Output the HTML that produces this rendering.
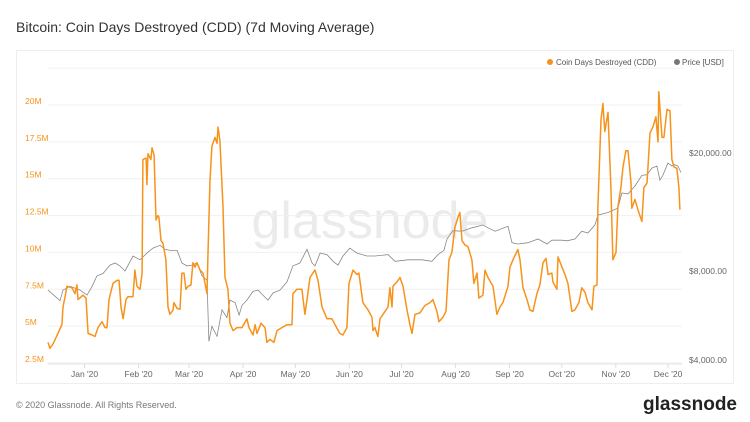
<!DOCTYPE html>
<html><head><meta charset="utf-8"><style>
body{margin:0;width:750px;height:422px;background:#fff;overflow:hidden;font-family:"Liberation Sans",sans-serif;}
svg{display:block}
</style></head><body>
<svg id="c" width="750" height="422">
<text x="16" y="32" font-size="14" fill="#333">Bitcoin: Coin Days Destroyed (CDD) (7d Moving Average)</text>
<rect x="16.5" y="50.5" width="717" height="333" fill="#fff" stroke="#eee"/>
<text x="370" y="238" font-size="52" fill="#ebebeb" text-anchor="middle">glassnode</text>
<g id="grid"></g><g id="axes"></g><g id="series"></g>
<g>
<g><circle cx="550" cy="62" r="3" fill="#f7931a"/><text x="556" y="65" font-size="8" fill="#555">Coin Days Destroyed (CDD)</text></g>
<g><circle cx="677" cy="62" r="3" fill="#777"/><text x="682" y="65" font-size="8" fill="#555">Price [USD]</text></g>
</g>
<text x="16" y="408" font-size="9" fill="#777">© 2020 Glassnode. All Rights Reserved.</text>
<text x="737" y="410" font-size="19" font-weight="bold" fill="#222" text-anchor="end">glassnode</text>
</svg>
<script>
const cddDays=[0,1.1,2.9,5.7,8,8.6,9.8,10.9,13.8,15.5,16.6,17.2,20.1,21.8,23,25.3,27,28.7,31,32.7,33.9,35,37.3,39.6,40.8,41.9,43.1,44.8,45.9,48.8,49.9,51.1,52.8,54,54.5,56.3,56.8,57.4,59.1,59.7,60.9,62,63.1,63.7,64.9,66,67.7,68.9,70,71.8,72.3,74.1,75.8,76.9,78.1,79.2,80.4,82.1,83.2,84.4,85.5,87.3,89,91.3,91.8,93,94.1,95.9,97,97.6,98.7,100.5,101.6,103.3,104.5,106.2,108.5,111.4,114.2,115.4,117.7,118.9,120,122.3,124.6,125.7,127.4,129.7,131.5,134.3,137.2,140.1,140.6,142.9,145.8,147.5,148.7,150.4,152.1,153.3,155,157.3,160.2,163,164.8,167.6,169.3,171.6,172.8,175.1,177.4,178.5,180.8,183.7,186,186.6,187.7,189.4,190.6,193.5,195.2,196.3,197.5,198.1,200.3,202.1,203.8,206.1,207.8,209,210.7,213.5,216.4,219.3,221,223.3,224.5,226.7,228.5,230.2,231.9,233.6,235.4,236.5,237.7,239.4,241.1,243.4,244.5,246.3,247.4,249.7,250.9,252.6,255.5,257.7,259.5,261.2,264.1,265.2,267,269.8,271,272.7,275,276.7,278.4,280.7,282.4,284.2,285.9,287.1,289.3,289.9,292.2,292.8,295.1,296.8,298.5,300.8,302.5,304.8,306.5,308.3,310,312.3,313.4,315.2,315.7,317.5,318.6,319.7,321.5,323.2,324.3,326.1,327.2,328.9,330.1,331.8,333,334.7,335.2,337,338.7,341,342.1,343.9,345.6,347.3,349,350.2,350.7,352.5,353.6,355.4,357.1,358.2,359.4,361.1,362.2,362.8];
const cddValues=[3.9,3.5,3.8,4.5,5.1,6.3,7.0,7.7,7.6,7.2,7.8,6.8,7.1,6.9,4.5,4.4,4.3,4.9,5.3,4.9,4.9,6.8,7.9,8.1,8.1,6.3,5.5,6.8,7.0,7.0,8.8,7.7,7.5,8.6,16.3,16.4,14.6,16.7,16.3,17.1,16.6,12.2,12.5,12.4,10.8,10.6,9.5,6.3,5.8,6.1,6.6,6.2,6.15,8.6,8.6,7.5,7.7,7.8,9.3,9.0,9.3,8.8,8.6,7.2,9.7,14.9,17.2,17.8,17.4,18.5,17.6,13.1,8.3,7.5,5.2,4.7,4.9,4.9,5.5,4.9,4.4,5.1,4.5,5.2,4.9,3.9,4.1,3.9,4.7,4.9,5.1,5.1,7.2,7.5,7.5,5.8,6.8,8.3,8.6,8.8,8.1,6.3,5.5,5.5,5.1,4.5,4.4,4.9,7.9,8.8,8.5,8.6,6.6,6.1,5.6,4.7,4.9,4.3,5.5,6.0,6.3,7.6,6.3,7.7,8.0,8.3,7.7,6.1,5.1,4.5,5.8,5.9,6.4,6.6,6.8,6.0,5.3,5.6,6.0,9.5,10.0,11.7,12.4,12.7,10.8,10.5,10.4,9.5,7.9,8.6,6.9,7.1,8.8,8.3,7.7,5.8,6.3,6.6,7.7,9.0,9.5,10.2,9.5,7.6,6.8,6.1,6.0,7.2,7.8,9.3,9.6,8.5,8.6,8.0,7.5,9.7,9.0,8.5,7.9,6.0,6.1,6.6,7.6,7.3,6.6,6.1,7.7,7.8,13.1,19.0,20.1,18.2,19.5,14.4,9.5,10.0,13.1,14.4,15.8,16.9,16.9,14.7,13.0,13.6,12.9,12.1,14.4,14.7,18.1,18.5,19.2,17.5,20.9,17.8,17.8,19.7,19.6,16.3,15.8,15.7,14.4,12.9];
const priceDays=[0,6.9,8.6,12.6,18.4,22.4,25.3,28.1,31.6,35.6,38.6,41.3,44.2,48.8,52.8,56.8,60.3,64.3,67.1,70,74.1,76.9,79.8,82.7,85.5,88.4,91.3,92.4,94.1,97,99.9,102.7,104.5,107.4,109.7,111.4,114.2,117.7,120.6,123.4,126.3,129.2,133.2,137.2,140.6,144.6,148.7,151.6,153.3,156.2,160.2,163.6,166.5,169.3,173.3,177.4,183.1,187.7,195.2,199.2,206.7,214.7,220.4,223.9,227.3,229.1,232.5,237.7,243.4,249.7,252.6,256.7,264.1,266.4,269.8,275.6,281.3,286.5,289.3,295.1,298,302.5,306.5,310,314,315.7,321.5,327.2,329.5,333,337,341,343.9,346.7,349.6,351.3,353,355.9,358.2,359.9,361.6,363.4];
const priceValues=[7060,6500,7060,7270,7060,6790,7270,7880,8030,8570,8710,8520,8190,9200,8930,9410,9780,10000,9690,9610,9610,8710,8520,8570,8710,7890,7620,4740,5330,4930,6060,5700,6530,6400,5820,6270,6530,6990,7060,6790,6530,6900,7060,7530,8520,8710,9690,8710,8520,9410,9300,8830,8570,9200,9780,9410,9200,9200,9300,8830,8930,8930,8830,9300,9610,10500,11200,11150,11450,11700,11450,11150,11590,10200,10100,10200,10500,10100,10400,10400,10350,10500,11150,11000,11700,12640,12900,13340,15000,14900,15850,17200,17300,18200,18500,16580,17200,18930,18500,18700,18500,17600];
const leftTicks=[2.5,5,7.5,10,12.5,15,17.5,20,22.5];
const leftLabels=["2.5M","5M","7.5M","10M","12.5M","15M","17.5M","20M",""];
const rightTicks=[4000,8000,20000];
const rightLabels=["$4,000.00","$8,000.00","$20,000.00"];
const monthDays=[21,52,81,112,142,173,203,234,265,295,326,356];
const monthLabels=["Jan '20","Feb '20","Mar '20","Apr '20","May '20","Jun '20","Jul '20","Aug '20","Sep '20","Oct '20","Nov '20","Dec '20"];

const NS="http://www.w3.org/2000/svg";
const X0=48,X1=682;
const xs=d=>X0+d*(X1-X0)/364;
const yL=v=>363-(v-2.5)*(258/17.5);
const yR=p=>156-296.5*Math.log10(p/20000);
function mk(tag,attrs,parent){const e=document.createElementNS(NS,tag);for(const k in attrs)e.setAttribute(k,attrs[k]);parent.appendChild(e);return e;}
const grid=document.getElementById('grid'),axes=document.getElementById('axes'),series=document.getElementById('series');
leftTicks.forEach((v,i)=>{
  const l=mk('line',{x1:X0,x2:X1,y1:yL(v),y2:yL(v),stroke:'#f0f0f0'},grid);
  
  
  if(leftLabels[i]){const t=mk('text',{x:25,y:yL(v)-1,'font-size':8.5,fill:'#f7931a'},axes);t.textContent=leftLabels[i];
  
  }
});
rightTicks.forEach((p,i)=>{
  const t=mk('text',{x:689,y:yR(p),'font-size':8.5,fill:'#666'},axes);t.textContent=rightLabels[i];
  
  
});
mk('line',{x1:X0,x2:X1,y1:364,y2:364,stroke:'#e6e6e6'},axes);
monthDays.forEach((d,i)=>{
  const x=xs(d);
  mk('line',{x1:x,x2:x,y1:364,y2:368,stroke:'#ddd'},axes);
  const t=mk('text',{x:x,y:377,'font-size':8.5,fill:'#666','text-anchor':'middle'},axes);t.textContent=monthLabels[i];
  
  
});
const pp=priceDays.map((d,i)=>xs(d).toFixed(1)+','+yR(priceValues[i]).toFixed(1)).join(' ');
const pl=mk('polyline',{points:pp,fill:'none',stroke:'#888','stroke-width':0.8},series);


const cp=cddDays.map((d,i)=>xs(d).toFixed(1)+','+yL(cddValues[i]).toFixed(1)).join(' ');
const cl=mk('polyline',{points:cp,fill:'none',stroke:'#f7931a','stroke-width':1.5,'stroke-linejoin':'round'},series);


</script>
</body></html>
